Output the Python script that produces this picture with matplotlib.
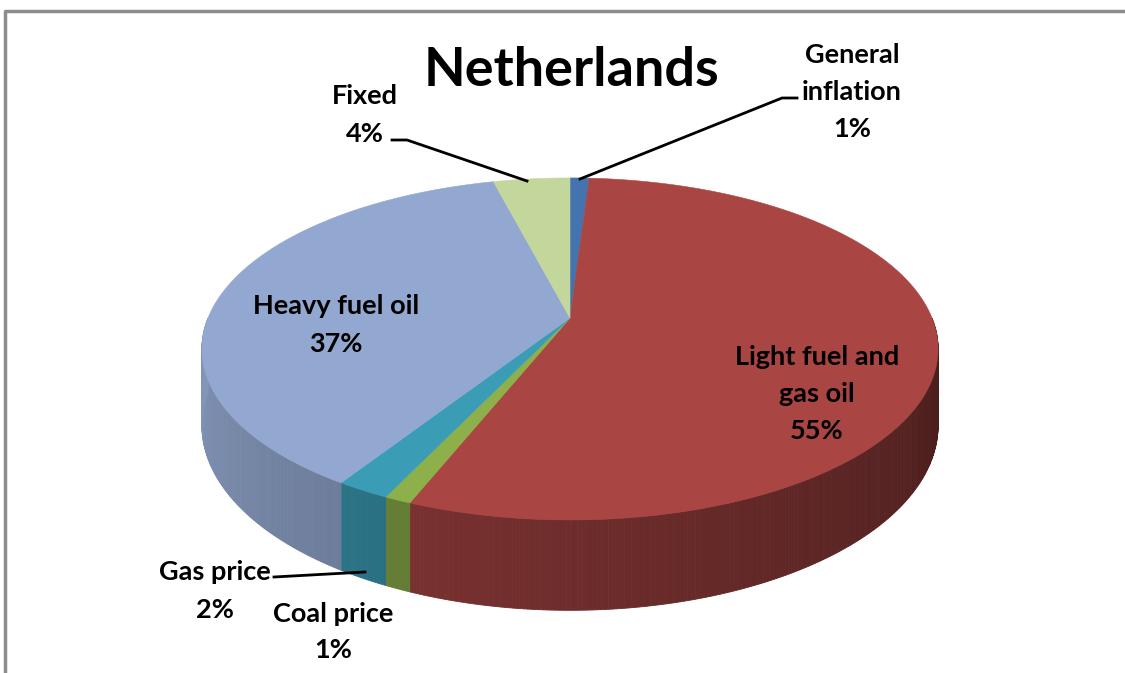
import numpy as np
import matplotlib.pyplot as plt
from matplotlib.patches import Polygon

# Data
labels = ['General\ninflation', 'Light fuel and\ngas oil', 'Coal price',
          'Gas price', 'Heavy fuel oil', 'Fixed']
shares = [1, 55, 1, 2, 37, 4]
top_colors = ['#4473AF', '#A94543', '#8DB04B', '#3A9CB5', '#93A8D0', '#C3D69B']

# label anchor (centre of text block) in pixels
label_pos = [(852, 92), (817, 394), (333, 632), (215, 591), (336, 325), (365, 115)]

# pie geometry (pixel space, perspective approximated)
cx, cy = 570, 318
B, A = 362, 165.4   # horizontal / vertical radius
k = 0.181           # perspective strength
H = 74              # depth of the pie


def proj(theta, drop=0.0):
    w = 1 + k * np.cos(theta)
    return cx + B * np.sin(theta) / w, cy + (-A * np.cos(theta) + drop) / w


def shade(c, theta):
    f = 0.40 + 0.5 * (np.degrees(theta) - 90) / 180
    rgb = np.array(plt.matplotlib.colors.to_rgb(c))
    return tuple(np.clip(rgb * f, 0, 1))


fig = plt.figure(figsize=(11.25, 6.73), dpi=100)
ax = fig.add_axes([0, 0, 1, 1])
ax.set_xlim(0, 1125)
ax.set_ylim(673, 0)
ax.axis('off')

# frame
ax.plot([5, 5, 1125], [673, 11, 11], color='#8c8c8c', lw=2.5, zorder=1)

fracs = np.array(shares) / sum(shares)
bounds = np.concatenate([[0], np.cumsum(fracs)]) * 2 * np.pi

# side walls (only front half is visible)
for i, c in enumerate(top_colors):
    t1, t2 = bounds[i], bounds[i + 1]
    lo, hi = max(t1, np.pi / 2), min(t2, 3 * np.pi / 2)
    if hi <= lo:
        continue
    ts = np.linspace(lo, hi, max(3, int(np.degrees(hi - lo) * 2)))
    for a, b in zip(ts[:-1], ts[1:]):
        pts = [proj(a), proj(b), proj(b, H), proj(a, H)]
        col = shade(c, (a + b) / 2)
        ax.add_patch(Polygon(pts, closed=True, facecolor=col, edgecolor=col,
                             lw=0.6, zorder=2))

# top faces
for i, c in enumerate(top_colors):
    ts = np.linspace(bounds[i], bounds[i + 1], 200)
    pts = [(cx, cy)] + [proj(t) for t in ts]
    ax.add_patch(Polygon(pts, closed=True, facecolor=c, edgecolor=c,
                         lw=0.4, zorder=3))

# title
ax.text(571, 70, 'Netherlands', ha='center', va='center', fontsize=39,
        fontweight='bold', family='Lato', zorder=5)

# labels
for lab, s, (x, y) in zip(labels, shares, label_pos):
    ax.text(x, y, f'{lab}\n{s}%', ha='center', va='center', fontsize=19.5,
            fontweight='bold', family='Lato', linespacing=1.65, zorder=5)

# leader lines
ax.plot([797, 782, 580], [98, 98, 179], color='black', lw=2, zorder=4)
ax.plot([392, 407, 527], [140, 140, 181], color='black', lw=2, zorder=4)
ax.plot([274, 365], [577, 572], color='black', lw=2, zorder=4)

fig.savefig('out.png', dpi=100)
